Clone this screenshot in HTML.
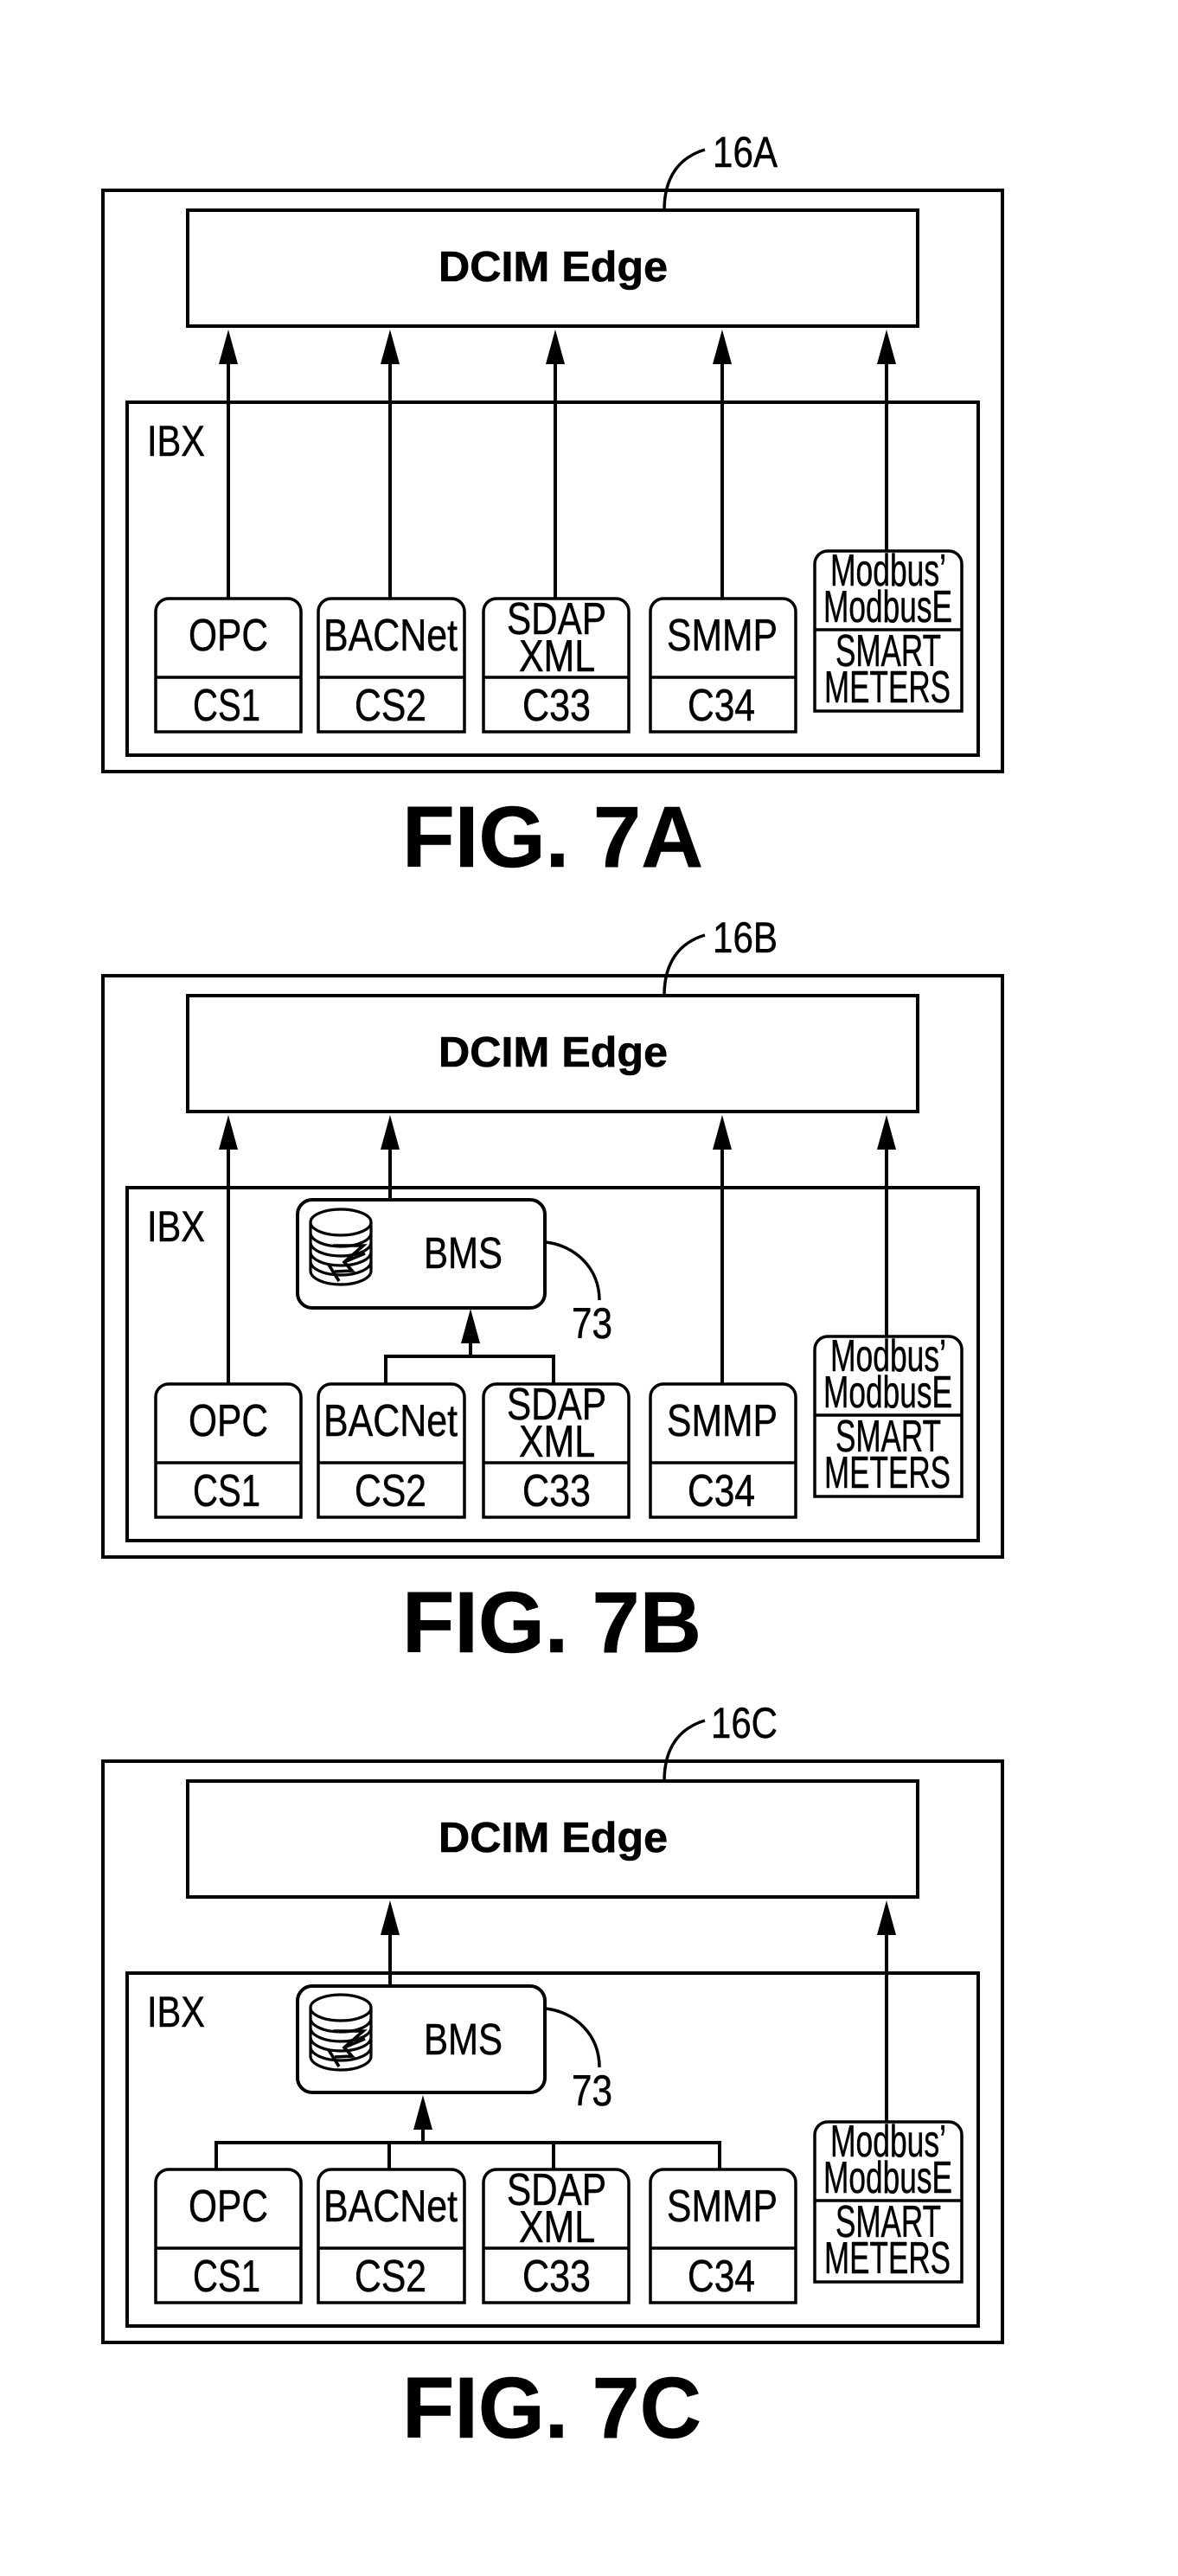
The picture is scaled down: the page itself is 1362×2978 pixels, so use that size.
<!DOCTYPE html>
<html><head><meta charset="utf-8"><style>html,body{margin:0;padding:0;background:#fff}svg{display:block}
text{font-family:"Liberation Sans",sans-serif;fill:#000;font-size:52px;stroke:#000;stroke-width:.5px}
.b{font-weight:700;stroke-width:.6px}
.l{fill:none;stroke:#000;stroke-width:4}
.t{fill:none;stroke:#000;stroke-width:3.5}
.d{fill:none;stroke:#000;stroke-width:3.2}
.n{fill:none;stroke:#000;stroke-width:3.6}
</style></head><body>
<svg xmlns="http://www.w3.org/2000/svg" width="1362" height="2978" viewBox="0 0 1362 2978">
<rect width="1362" height="2978" fill="#fff"/>

<!-- FIG 7A -->
<g>
<rect class="l" x="119" y="220" width="1040" height="672"/>
<rect class="l" x="217" y="243" width="844" height="134"/>
<rect class="l" x="147" y="465" width="984" height="408"/>
<path class="t" d="M768 243C768 205 785 182 815 173"/>
<text x="824" y="193" style="font-size:50px" textLength="75" lengthAdjust="spacingAndGlyphs">16A</text>
<text class="b" x="507" y="325" style="font-size:49px" textLength="265" lengthAdjust="spacingAndGlyphs">DCIM Edge</text>
<text x="170" y="527" style="font-size:50px" textLength="67" lengthAdjust="spacingAndGlyphs">IBX</text>
<path class="l" d="M264 421V691M451 421V691M642 421V691M835 421V691M1025 421V636"/>
<path d="M264 381l-11 40h22zM451 381l-11 40h22zM642 381l-11 40h22zM835 381l-11 40h22zM1025 381l-11 40h22z"/>
<path class="t" d="M180 846V707a15 15 0 0 1 15-15H333a15 15 0 0 1 15 15V846ZM180 783H348"/>
<path class="t" d="M368 846V707a15 15 0 0 1 15-15H522a15 15 0 0 1 15 15V846ZM368 783H537"/>
<path class="t" d="M559 846V707a15 15 0 0 1 15-15H712a15 15 0 0 1 15 15V846ZM559 783H727"/>
<path class="t" d="M752 846V707a15 15 0 0 1 15-15H905a15 15 0 0 1 15 15V846ZM752 783H920"/>
<path class="t" d="M942 822V652a15 15 0 0 1 15-15H1097a15 15 0 0 1 15 15V822ZM942 728H1112"/>
<text x="218" y="752" textLength="92" lengthAdjust="spacingAndGlyphs">OPC</text>
<text x="374" y="752" textLength="155" lengthAdjust="spacingAndGlyphs">BACNet</text>
<text x="586" y="733" textLength="115" lengthAdjust="spacingAndGlyphs">SDAP</text>
<text x="600" y="776" textLength="88" lengthAdjust="spacingAndGlyphs">XML</text>
<text x="771" y="752" textLength="128" lengthAdjust="spacingAndGlyphs">SMMP</text>
<text x="223" y="833" textLength="78" lengthAdjust="spacingAndGlyphs">CS1</text>
<text x="410" y="833" textLength="83" lengthAdjust="spacingAndGlyphs">CS2</text>
<text x="604" y="833" textLength="79" lengthAdjust="spacingAndGlyphs">C33</text>
<text x="795" y="833" textLength="78" lengthAdjust="spacingAndGlyphs">C34</text>
<text x="960" y="677" textLength="134" lengthAdjust="spacingAndGlyphs">Modbus’</text>
<text x="952" y="719" textLength="149" lengthAdjust="spacingAndGlyphs">ModbusE</text>
<text x="966" y="770" textLength="122" lengthAdjust="spacingAndGlyphs">SMART</text>
<text x="953" y="812" textLength="146" lengthAdjust="spacingAndGlyphs">METERS</text>
<text class="b" x="465" y="1002" style="font-size:100px" textLength="348" lengthAdjust="spacingAndGlyphs">FIG. 7A</text>
</g>

<!-- FIG 7B -->
<g transform="translate(0,908)">
<rect class="l" x="119" y="220" width="1040" height="672"/>
<rect class="l" x="217" y="243" width="844" height="134"/>
<rect class="l" x="147" y="465" width="984" height="408"/>
<path class="t" d="M768 243C768 205 785 182 815 173"/>
<text x="824" y="193" style="font-size:50px" textLength="75" lengthAdjust="spacingAndGlyphs">16B</text>
<text class="b" x="507" y="325" style="font-size:49px" textLength="265" lengthAdjust="spacingAndGlyphs">DCIM Edge</text>
<text x="170" y="527" style="font-size:50px" textLength="67" lengthAdjust="spacingAndGlyphs">IBX</text>
<path class="l" d="M264 421V691M451 421V479M835 421V691M1025 421V636M544 645V660"/>
<path d="M264 381l-11 40h22zM451 381l-11 40h22zM835 381l-11 40h22zM1025 381l-11 40h22zM544 605l-11 40h22z"/>
<path class="l" d="M446 691V660H640V691"/>
<rect class="l" x="344" y="479" width="286" height="125" rx="17"/>
<path class="t" d="M631 528C665 532 693 558 693 595"/>
<text x="661" y="639" textLength="47" lengthAdjust="spacingAndGlyphs" style="font-size:50px">73</text>
<text x="490" y="558" style="font-size:51px" textLength="91" lengthAdjust="spacingAndGlyphs">BMS</text>
<ellipse class="d" cx="394" cy="505" rx="35" ry="15"/>
<path class="d" d="M359 505V561C359 570 375 577 394 577S429 570 429 561V505M359 517C359 526 375 533 394 533S429 526 429 517M359 528C359 537 375 544 394 544S429 537 429 528M359 539C359 548 375 555 394 555S429 548 429 539M359 550C359 559 375 566 394 566S429 559 429 550"/>
<path class="n" d="M385 532H420L398 551L407 561L387 562M398 551L422 541M380 554L392 573"/>
<path class="t" d="M180 846V707a15 15 0 0 1 15-15H333a15 15 0 0 1 15 15V846ZM180 783H348"/>
<path class="t" d="M368 846V707a15 15 0 0 1 15-15H522a15 15 0 0 1 15 15V846ZM368 783H537"/>
<path class="t" d="M559 846V707a15 15 0 0 1 15-15H712a15 15 0 0 1 15 15V846ZM559 783H727"/>
<path class="t" d="M752 846V707a15 15 0 0 1 15-15H905a15 15 0 0 1 15 15V846ZM752 783H920"/>
<path class="t" d="M942 822V652a15 15 0 0 1 15-15H1097a15 15 0 0 1 15 15V822ZM942 728H1112"/>
<text x="218" y="752" textLength="92" lengthAdjust="spacingAndGlyphs">OPC</text>
<text x="374" y="752" textLength="155" lengthAdjust="spacingAndGlyphs">BACNet</text>
<text x="586" y="733" textLength="115" lengthAdjust="spacingAndGlyphs">SDAP</text>
<text x="600" y="776" textLength="88" lengthAdjust="spacingAndGlyphs">XML</text>
<text x="771" y="752" textLength="128" lengthAdjust="spacingAndGlyphs">SMMP</text>
<text x="223" y="833" textLength="78" lengthAdjust="spacingAndGlyphs">CS1</text>
<text x="410" y="833" textLength="83" lengthAdjust="spacingAndGlyphs">CS2</text>
<text x="604" y="833" textLength="79" lengthAdjust="spacingAndGlyphs">C33</text>
<text x="795" y="833" textLength="78" lengthAdjust="spacingAndGlyphs">C34</text>
<text x="960" y="677" textLength="134" lengthAdjust="spacingAndGlyphs">Modbus’</text>
<text x="952" y="719" textLength="149" lengthAdjust="spacingAndGlyphs">ModbusE</text>
<text x="966" y="770" textLength="122" lengthAdjust="spacingAndGlyphs">SMART</text>
<text x="953" y="812" textLength="146" lengthAdjust="spacingAndGlyphs">METERS</text>
<text class="b" x="465" y="1002" style="font-size:100px" textLength="346" lengthAdjust="spacingAndGlyphs">FIG. 7B</text>
</g>

<!-- FIG 7C -->
<g transform="translate(0,1816)">
<rect class="l" x="119" y="220" width="1040" height="672"/>
<rect class="l" x="217" y="243" width="844" height="134"/>
<rect class="l" x="147" y="465" width="984" height="408"/>
<path class="t" d="M768 243C768 205 785 182 815 173"/>
<text x="822" y="193" style="font-size:50px" textLength="77" lengthAdjust="spacingAndGlyphs">16C</text>
<text class="b" x="507" y="325" style="font-size:49px" textLength="265" lengthAdjust="spacingAndGlyphs">DCIM Edge</text>
<text x="170" y="527" style="font-size:50px" textLength="67" lengthAdjust="spacingAndGlyphs">IBX</text>
<path class="l" d="M451 421V479M1025 421V636M489 646V661"/>
<path d="M451 381l-11 40h22zM1025 381l-11 40h22zM489 606l-11 40h22z"/>
<path class="l" d="M250 691V661H832V691M450 661V691M640 661V691"/>
<rect class="l" x="344" y="480" width="286" height="123" rx="17"/>
<path class="t" d="M631 506C665 510 693 536 693 574"/>
<text x="661" y="618" textLength="47" lengthAdjust="spacingAndGlyphs" style="font-size:50px">73</text>
<text x="490" y="559" style="font-size:51px" textLength="91" lengthAdjust="spacingAndGlyphs">BMS</text>
<ellipse class="d" cx="394" cy="505" rx="35" ry="15"/>
<path class="d" d="M359 505V561C359 570 375 577 394 577S429 570 429 561V505M359 517C359 526 375 533 394 533S429 526 429 517M359 528C359 537 375 544 394 544S429 537 429 528M359 539C359 548 375 555 394 555S429 548 429 539M359 550C359 559 375 566 394 566S429 559 429 550"/>
<path class="n" d="M385 532H420L398 551L407 561L387 562M398 551L422 541M380 554L392 573"/>
<path class="t" d="M180 846V707a15 15 0 0 1 15-15H333a15 15 0 0 1 15 15V846ZM180 783H348"/>
<path class="t" d="M368 846V707a15 15 0 0 1 15-15H522a15 15 0 0 1 15 15V846ZM368 783H537"/>
<path class="t" d="M559 846V707a15 15 0 0 1 15-15H712a15 15 0 0 1 15 15V846ZM559 783H727"/>
<path class="t" d="M752 846V707a15 15 0 0 1 15-15H905a15 15 0 0 1 15 15V846ZM752 783H920"/>
<path class="t" d="M942 822V652a15 15 0 0 1 15-15H1097a15 15 0 0 1 15 15V822ZM942 728H1112"/>
<text x="218" y="752" textLength="92" lengthAdjust="spacingAndGlyphs">OPC</text>
<text x="374" y="752" textLength="155" lengthAdjust="spacingAndGlyphs">BACNet</text>
<text x="586" y="733" textLength="115" lengthAdjust="spacingAndGlyphs">SDAP</text>
<text x="600" y="776" textLength="88" lengthAdjust="spacingAndGlyphs">XML</text>
<text x="771" y="752" textLength="128" lengthAdjust="spacingAndGlyphs">SMMP</text>
<text x="223" y="833" textLength="78" lengthAdjust="spacingAndGlyphs">CS1</text>
<text x="410" y="833" textLength="83" lengthAdjust="spacingAndGlyphs">CS2</text>
<text x="604" y="833" textLength="79" lengthAdjust="spacingAndGlyphs">C33</text>
<text x="795" y="833" textLength="78" lengthAdjust="spacingAndGlyphs">C34</text>
<text x="960" y="677" textLength="134" lengthAdjust="spacingAndGlyphs">Modbus’</text>
<text x="952" y="719" textLength="149" lengthAdjust="spacingAndGlyphs">ModbusE</text>
<text x="966" y="770" textLength="122" lengthAdjust="spacingAndGlyphs">SMART</text>
<text x="953" y="812" textLength="146" lengthAdjust="spacingAndGlyphs">METERS</text>
<text class="b" x="465" y="1002" style="font-size:100px" textLength="346" lengthAdjust="spacingAndGlyphs">FIG. 7C</text>
</g>
</svg>
</body></html>
